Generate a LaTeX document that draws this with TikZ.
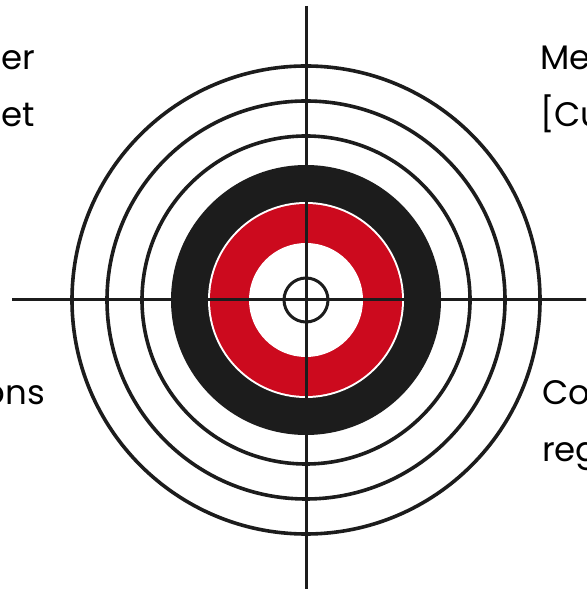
\documentclass[tikz,border=0pt]{standalone}
\usepackage{fontspec}
\setmainfont{Poppins}
\definecolor{targetred}{RGB}{204,10,30}
\definecolor{targetblack}{RGB}{28,28,28}
\tikzset{
  ring/.style={draw=targetblack, line width=3.6pt},
  hair/.style={draw=targetblack, line width=3pt},
  lbl/.style={font=\fontsize{34}{41}\selectfont, text=black, inner sep=0pt},
}
\begin{document}
\begin{tikzpicture}[x=1pt,y=1pt]
\useasboundingbox (0,0) rectangle (586,591);
\clip (0,0) rectangle (586,591);
\coordinate (c) at (306,291);
% outer rings
\draw[ring] (c) circle[radius=234];
\draw[ring] (c) circle[radius=199];
\draw[ring] (c) circle[radius=164];
% black band
\fill[targetblack] (c) circle[radius=135];
\fill[white] (c) circle[radius=98];
\fill[targetred] (c) circle[radius=96];
\fill[white] (c) circle[radius=57];
% crosshair
\coordinate (vt) at (306,585);
\coordinate (vb) at (306,2);
\coordinate (hl) at (12,291);
\coordinate (hr) at (590,291);
\draw[hair] (vt) -- (vb);
\draw[hair] (hl) -- (hr);
\draw[hair] (c) circle[radius=22];
% texts (cropped at the edges, as in the reference)
\node[lbl, anchor=base east] (t1) at (35,521) {er};
\node[lbl, anchor=base east] (t2) at (35,464) {et};
\node[lbl, anchor=base east] (t3) at (45,186) {ons};
\node[lbl, anchor=base west] (t4) at (540,521) {Me};
\node[lbl, anchor=base west] (t5) at (540,464) {[Cu};
\node[lbl, anchor=base west] (t6) at (542,186) {Co};
\node[lbl, anchor=base west] (t7) at (542,129) {reg};
\end{tikzpicture}
\end{document}
